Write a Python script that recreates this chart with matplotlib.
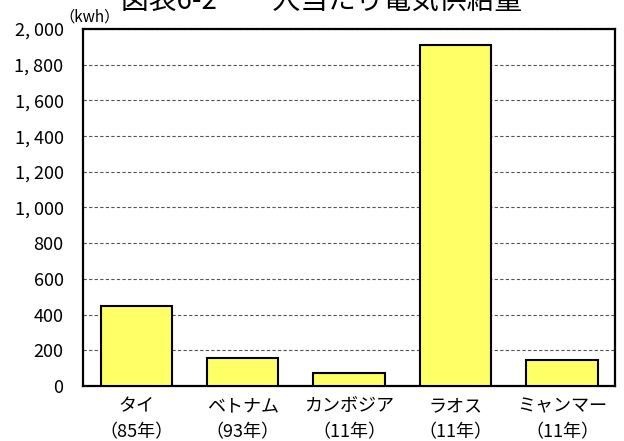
import matplotlib.pyplot as plt
import numpy as np

plt.rcParams['font.family'] = ['Noto Sans CJK JP', 'DejaVu Sans']

# 一人当たり電気供給量 (kwh)
countries = ['タイ', 'ベトナム', 'カンボジア', 'ラオス', 'ミャンマー']
years = ['（85年）', '（93年）', '（11年）', '（11年）', '（11年）']
supply = [450, 157, 71, 1910, 145]
yticks = np.arange(0, 2001, 200)

fig = plt.figure(figsize=(6.24, 4.41), dpi=100)
ax = fig.add_axes([0.133, 0.125, 0.853, 0.809])

x = np.arange(len(countries))
ax.bar(x, supply, width=0.67, color='#ffff66', edgecolor='black',
       linewidth=1.5, zorder=3)

ax.set_xlim(-0.5, len(countries) - 0.5)
ax.set_ylim(0, 2000)
ax.set_yticks(yticks)
ax.set_yticklabels(['{:,}'.format(v).replace(',', ', ') for v in yticks],
                   fontsize=13)
ax.set_xticks(x)
ax.set_xticklabels([c + '\n' + y for c, y in zip(countries, years)],
                   fontsize=13, linespacing=1.6)
ax.tick_params(axis='y', length=0, pad=14)
ax.tick_params(axis='x', length=0, pad=8)
ax.yaxis.grid(True, linestyle=(0, (3, 2)), color='#555555', linewidth=0.8,
              zorder=0)

for s in ax.spines.values():
    s.set_linewidth(1.6)
    s.set_color('black')

fig.text(90 / 624, 1 - 17 / 441, '（kwh）', fontsize=11,
         ha='center', va='center')
# title sits partly above the top edge of the figure
fig.text(0.515, 1 - 9 / 441, '図表6-2　一人当たり電気供給量', fontsize=20,
         ha='center', va='baseline')

fig.savefig('out.png', dpi=100)
